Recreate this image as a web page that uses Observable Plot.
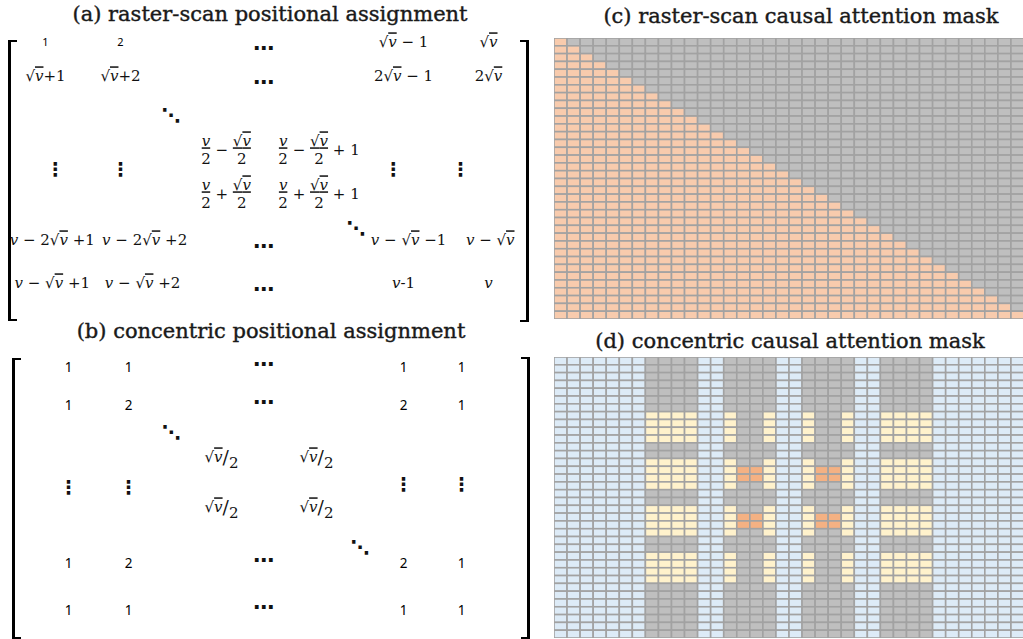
<!DOCTYPE html>
<html><head><meta charset="utf-8">
<script src="https://cdn.jsdelivr.net/npm/d3@7"></script>
<script src="https://cdn.jsdelivr.net/npm/@observablehq/plot@0.6"></script>
<style>
body{margin:0;background:#fff;}
#root{position:relative;width:1023px;height:639px;overflow:hidden;background:#fff;}
.title{position:absolute;font-family:"DejaVu Serif",serif;font-size:21px;font-weight:normal;-webkit-text-stroke:0.4px #1a1a1a;line-height:24px;color:#1a1a1a;text-align:center;white-space:nowrap;}
.br{position:absolute;border:0 solid #000;box-sizing:content-box;}
.abs{position:absolute;}
</style></head><body><div id="root"></div>
<script>
// ---------- data ----------
const titles = [
  "(a) raster-scan positional assignment",
  "(b) concentric positional assignment",
  "(c) raster-scan causal attention mask",
  "(d) concentric causal attention mask"
];
// matrix (a): [row, col, text]  (logical row/col of the matrix layout)
const rasterEntries = [
  [0,0,"1"],[0,1,"2"],[0,3,"⋯"],[0,5,"√v − 1"],[0,6,"√v"],
  [1,0,"√v+1"],[1,1,"√v+2"],[1,3,"⋯"],[1,5,"2√v − 1"],[1,6,"2√v"],
  [2,1.48,"⋱"],
  [3,2,"{v|2} − {√v|2}"],[3,4,"{v|2} − {√v|2} + 1"],
  [3.45,0.13,"⋮"],[3.45,1,"⋮"],[3.45,4.88,"⋮"],[3.45,5.67,"⋮"],
  [4,2,"{v|2} + {√v|2}"],[4,4,"{v|2} + {√v|2} + 1"],
  [4.75,4.44,"⋱"],
  [5,0.09,"v − 2√v +1"],[5,1.23,"v − 2√v +2"],[5,3,"⋯"],[5,5.06,"v − √v −1"],[5,6.02,"v − √v"],
  [6,0.09,"v − √v +1"],[6,1.21,"v − √v +2"],[6,3,"⋯"],[6,5,"v-1"],[6,6,"v"]
];
// matrix (b)
const concentricEntries = [
  [0,0,"1"],[0,1,"1"],[0,3,"⋯"],[0,5,"1"],[0,6,"1"],
  [1,0,"1"],[1,1,"2"],[1,3,"⋯"],[1,5,"2"],[1,6,"1"],
  [2,1.46,"⋱"],
  [3,2,"√v/_2"],[3,4,"√v/_2"],
  [3.6,0,"⋮"],[3.6,1,"⋮"],[3.55,5,"⋮"],[3.55,6,"⋮"],
  [4,2,"√v/_2"],[4,4,"√v/_2"],
  [4.73,4.5,"⋱"],
  [5,0,"1"],[5,1,"2"],[5,3,"⋯"],[5,5,"2"],[5,6,"1"],
  [6,0,"1"],[6,1,"1"],[6,3,"⋯"],[6,5,"1"],[6,6,"1"]
];
// mask (c): number of attended positions in each row (36 x 36 grid)
const rasterAttended = [1,2,3,4,5,6,7,8,9,10,11,12,13,14,15,16,17,18,19,20,21,22,23,24,25,26,27,28,29,30,31,32,33,34,35,36];
// mask (d): band class of each column / row
const concentricCols = "BBBBBBBAAAABBEMMEBBEMMEBBAAAABBBBBBB";
const concentricRows = "GGGGGGGYYYYGGEMMEGGEMMEGGYYYYGGGGGGG";
const maskCategories = ["attend","masked","unused","outer","center"];
const maskColors = ["#F8CBAD","#BFBFBF","#DDEBF7","#FFF2CC","#F4B183"];

// ---------- helpers ----------
const root = document.getElementById("root");
function place(el, left, top){ el.classList.add("abs"); el.style.left=left+"px"; el.style.top=top+"px"; root.appendChild(el); return el; }
function title(text, cx, top, w){ const d=document.createElement("div"); d.className="title"; d.textContent=text; d.style.left=(cx-w/2)+"px"; d.style.width=w+"px"; d.style.top=top+"px"; root.appendChild(d); }
function bracket(left, top, h, side){ const d=document.createElement("div"); d.className="br"; d.style.left=left+"px"; d.style.top=top+"px"; d.style.height=h+"px"; d.style.width="6px";
  d.style.borderTopWidth="2px"; d.style.borderBottomWidth="2px"; d.style[side==="l"?"borderLeftWidth":"borderRightWidth"]="3px"; root.appendChild(d); }

const SVGNS="http://www.w3.org/2000/svg";
function ts(parent, text, style){ const e=document.createElementNS(SVGNS,"tspan"); if(text!=null) e.textContent=text; if(style) e.setAttribute("style",style); parent.appendChild(e); return e; }
const VSTYLE="font-family:'DejaVu Serif';font-style:italic;";
function inline(parent, str){
  const out=[]; const re=/√v|v|\/_2|[^v√\/]+|\//g; let m;
  while((m=re.exec(str))){
    const tok=m[0];
    if(tok==="√v"){ const g=ts(parent,null); ts(g,"√","font-family:'DejaVu Sans';"); ts(g,"v",VSTYLE+"text-decoration:overline;"); out.push(g); }
    else if(tok==="v"){ out.push(ts(parent,"v",VSTYLE)); }
    else if(tok==="/_2"){ const a=ts(parent,"/","font-size:1.25em;"); a.setAttribute("dy","2"); const b=ts(parent,"2"); b.setAttribute("dy","4"); out.push(a,b); }
    else out.push(ts(parent,tok));
  }
  return out;
}
function mathify(t, off){
  const s=t.textContent; if(!/[v√{]/.test(s)) return;
  t.textContent="";
  const parts=s.split(/(\{[^}]*\})/).filter(d=>d);
  let pending=null;
  for(const p of parts){
    if(p[0]==="{"){
      const [n,d]=p.slice(1,-1).split("|");
      const num=ts(t,null,"text-decoration:underline;"); inline(num,n);
      const den=ts(t,null); inline(den,d);
      const wn=num.getComputedTextLength(), wd=den.getComputedTextLength(), w=Math.max(wn,wd);
      const pdx=pending?pending.dx:0, pdy=pending?pending.dy:0; pending=null;
      num.setAttribute("dx", pdx+(w-wn)/2); num.setAttribute("dy", pdy-off);
      den.setAttribute("dx", -(wn+wd)/2); den.setAttribute("dy", 2*off);
      pending={dx:(w-wd)/2, dy:-off};
    } else {
      const els=inline(t,p);
      if(pending && els[0]){ els[0].setAttribute("dx",pending.dx); els[0].setAttribute("dy",pending.dy); pending=null; }
    }
  }
}

// ---------- matrices (a) and (b) ----------
function matrixPlot(entries, opts){
  const rows=entries.map(([r,c,t])=>({r,c,t}));
  const isDots=d=>/[⋯⋮⋱]/.test(d.t);
  const isMath=d=>!isDots(d)&&/[v√{]/.test(d.t);
  const isPlain=d=>!isDots(d)&&!isMath(d);
  const chan={x:"c",y:"r",text:"t"};
  return Plot.plot({
    width:540,height:opts.height,margin:0,
    x:{type:"linear",domain:[0,1,2,3,4,5,6],range:opts.colRange,axis:null},
    y:{type:"linear",domain:[0,1,2,3,4,5,6],range:opts.rowRange,axis:null},
    marks:[
      Plot.text(rows.filter(isPlain),{...chan,fontFamily:"Noto Sans",fontSize:opts.plainSize,fill:"#000"}),
      Plot.text(rows.filter(isMath),{...chan,fontFamily:"DejaVu Serif",fontSize:opts.mathSize,fill:"#111"}),
      Plot.text(rows.filter(d=>d.t==="⋯"),{...chan,fontFamily:"DejaVu Sans",fontSize:21,fontWeight:"bold",dy:opts.hdotsDy,fill:"#111"}),
      Plot.text(rows.filter(d=>d.t!=="⋯"&&isDots(d)),{...chan,fontFamily:"DejaVu Sans",fontSize:19,fontWeight:"bold",fill:"#111"})
    ]
  });
}

title(titles[0],270,2,540);
const pa=place(matrixPlot(rasterEntries,{height:295,plainSize:11,mathSize:15,hdotsDy:6,
  colRange:[45,120,225,263,318,403,488],rowRange:[12,46,85,120,164,210,253]}),0,30);
pa.querySelectorAll("text").forEach(t=>mathify(t,9));
bracket(8,40,277,"l"); bracket(520,40,278,"r");

title(titles[1],271,319,540);
const pb=place(matrixPlot(concentricEntries,{height:294,plainSize:13.5,mathSize:15,hdotsDy:-3,
  colRange:[68,128,221,263,316,403,461],rowRange:[22,60,87,112,162,218,265]}),0,345);
pb.querySelectorAll("text").forEach(t=>mathify(t,9));
bracket(12,358,277,"l"); bracket(521,357,278,"r");

// ---------- masks (c) and (d) ----------
const N=rasterAttended.length;
const cellsC=[];
rasterAttended.forEach((k,r)=>{ for(let c=0;c<N;c++) cellsC.push({r,c,k:c<k?"attend":"masked"}); });
function cls(cc,rc){
  if(cc==="B") return "unused";
  if(cc==="M") return rc==="M"?"center":"masked";
  return rc==="G"?"masked":"outer";
}
const cellsD=[];
for(let r=0;r<concentricRows.length;r++) for(let c=0;c<concentricCols.length;c++)
  cellsD.push({r,c,k:cls(concentricCols[c],concentricRows[r])});

function maskPlot(cells){
  return Plot.plot({
    width:470,height:281,margin:0,
    x:{type:"band",domain:d3.range(N),padding:0,round:false,axis:null},
    y:{type:"band",domain:d3.range(N),padding:0,round:false,axis:null},
    color:{domain:maskCategories,range:maskColors},
    marks:[Plot.cell(cells,{x:"c",y:"r",fill:"k",stroke:"#a2a2a2",strokeWidth:1.6,inset:0})]
  });
}
title(titles[2],801,4,480);
place(maskPlot(cellsC),554,38);
title(titles[3],790,329,480);
place(maskPlot(cellsD),554,357);
</script></body></html>
